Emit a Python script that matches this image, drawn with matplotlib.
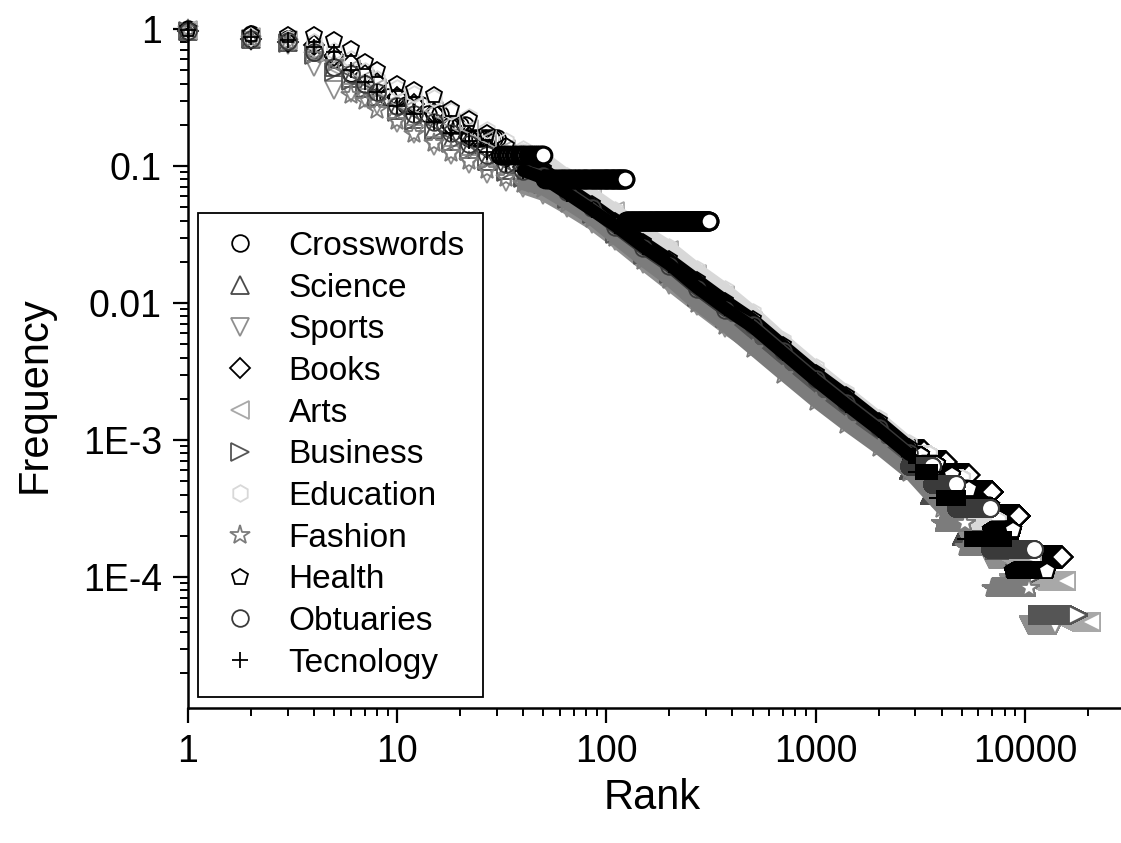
import numpy as np
import matplotlib
matplotlib.use("Agg")
import matplotlib.pyplot as plt
from matplotlib.lines import Line2D
from matplotlib.ticker import LogLocator, NullFormatter

plt.rcParams['font.family'] = ['Liberation Sans', 'DejaVu Sans']

rank_grid = [1, 2, 3, 4, 5, 6, 7, 8, 10, 12, 15, 18, 22, 27, 33, 40, 50, 65, 85, 110,
             150, 200, 270, 370, 500, 700, 1000, 1400, 2000, 2800, 4000, 5000]

# crosswords has only a few documents: every rank sits on a k/25 level
crosswords_level = [1.0, 0.92, 0.84, 0.72, 0.6, 0.48, 0.4, 0.32, 0.28, 0.24, 0.2, 0.16, 0.12, 0.08, 0.04]
crosswords_end = [1, 2, 3, 4, 5, 6, 8, 10, 13, 16, 21, 30, 50, 123, 310]

science_freq = [0.959, 0.843, 0.802, 0.684, 0.531, 0.437, 0.370, 0.322, 0.256, 0.221, 0.185, 0.153,
                0.134, 0.109, 0.0933, 0.0839, 0.0766, 0.0594, 0.0454, 0.0339, 0.0237, 0.0174,
                0.0115, 0.00802, 0.00568, 0.00366, 0.00231, 0.00155, 0.00104, 0.000679]
science_tail = [6.0e-4, 4.0e-4, 2.0e-4]
science_end = [3500, 5000, 8000]

sports_freq = [0.933, 0.813, 0.759, 0.525, 0.36, 0.34, 0.315, 0.278, 0.205, 0.172, 0.141, 0.120,
               0.104, 0.0871, 0.0759, 0.0692, 0.0617, 0.0490, 0.0380, 0.0282, 0.0192, 0.0136,
               0.0095, 0.0066, 0.0048, 0.00318, 0.00205, 0.00139, 0.000940, 0.000620,
               0.000347, 0.000253]
sports_tail = [2.27e-4, 1.82e-4, 1.36e-4, 9.1e-5, 4.5e-5]
sports_end = [5600, 6800, 8400, 10500, 14000]

books_freq = [0.966, 0.85, 0.81, 0.76, 0.635, 0.556, 0.461, 0.402, 0.319, 0.283, 0.242, 0.197,
              0.164, 0.136, 0.115, 0.0986, 0.0867, 0.0664, 0.0502, 0.0377, 0.0264, 0.0196,
              0.0139, 0.00973, 0.00711, 0.00474, 0.00299, 0.00199, 0.00130, 0.000847]
books_tail = [8.3e-4, 6.9e-4, 5.6e-4, 4.2e-4, 2.8e-4, 1.4e-4]
books_end = [3300, 4200, 5400, 7000, 9400, 15000]

arts_freq = [0.98, 0.867, 0.836, 0.684, 0.531, 0.513, 0.429, 0.373, 0.296, 0.272, 0.253, 0.205,
             0.186, 0.157, 0.132, 0.120, 0.108, 0.0805, 0.0615, 0.0466, 0.0321, 0.0242,
             0.0162, 0.0114, 0.00735, 0.00445, 0.00263, 0.00176, 0.00116, 0.000759,
             0.000432, 0.000320]
arts_tail = [2.8e-4, 2.35e-4, 1.88e-4, 1.41e-4, 9.4e-5, 4.7e-5]
arts_end = [5600, 6700, 8200, 10800, 15700, 20800]

business_freq = [0.959, 0.843, 0.791, 0.649, 0.485, 0.419, 0.356, 0.310, 0.247, 0.212, 0.177, 0.147,
                 0.128, 0.109, 0.0902, 0.0813, 0.0743, 0.0578, 0.0443, 0.0321, 0.0224, 0.0164,
                 0.0111, 0.00776, 0.00605, 0.00391, 0.00247, 0.00165, 0.00110, 0.000718,
                 0.000406, 0.000299]
business_tail = [2.6e-4, 2.1e-4, 1.58e-4, 1.05e-4, 5.3e-5]
business_end = [5800, 7200, 9000, 11500, 18000]

education_freq = [0.986, 0.875, 0.847, 0.802, 0.695, 0.603, 0.497, 0.433, 0.370, 0.334, 0.316, 0.252,
                  0.229, 0.182, 0.151, 0.132, 0.115, 0.0851, 0.0631, 0.0479, 0.0339, 0.0257,
                  0.0178, 0.0126, 0.00863, 0.00540, 0.00340, 0.00225, 0.00146, 0.000946]
education_tail = [7.9e-4, 5.3e-4, 2.6e-4]
education_end = [3500, 5000, 7400]

fashion_freq = [1.0, 0.851, 0.802, 0.649, 0.560, 0.332, 0.296, 0.258, 0.213, 0.172, 0.148, 0.125,
                0.109, 0.0938, 0.0813, 0.0738, 0.0676, 0.0532, 0.0410, 0.0297, 0.0204, 0.0147,
                0.0098, 0.0068, 0.00462, 0.00300, 0.00191, 0.00129, 0.000871, 0.000575, 0.000316]
fashion_tail = [2.5e-4, 1.67e-4, 8.3e-5]
fashion_end = [5200, 7000, 10500]

health_freq = [1.0, 0.92, 0.91, 0.90, 0.83, 0.71, 0.575, 0.50, 0.40, 0.36, 0.33, 0.26,
               0.22, 0.175, 0.141, 0.120, 0.095, 0.070, 0.053, 0.040, 0.0279, 0.0208,
               0.0148, 0.0104, 0.0076, 0.0049, 0.0031, 0.00212, 0.00138, 0.000895]
health_tail = [7.8e-4, 6.7e-4, 5.6e-4, 4.4e-4, 3.3e-4, 2.2e-4, 1.1e-4]
health_end = [3200, 3800, 4500, 5400, 6900, 8800, 12700]

obtuaries_freq = [0.966, 0.851, 0.813, 0.684, 0.531, 0.473, 0.398, 0.347, 0.275, 0.240, 0.211, 0.174,
                  0.145, 0.121, 0.1035, 0.0925, 0.0841, 0.0646, 0.0490, 0.0357, 0.0250, 0.0185,
                  0.0126, 0.00883, 0.00689, 0.00445, 0.00281, 0.00187, 0.00123, 0.000802]
obtuaries_tail = [6.5e-4, 4.8e-4, 3.2e-4, 1.6e-4]
obtuaries_end = [3600, 4700, 6800, 11000]

tech_freq = [0.98, 0.867, 0.836, 0.741, 0.676, 0.501, 0.407, 0.347, 0.275, 0.240, 0.211, 0.174,
             0.151, 0.126, 0.1035, 0.0925, 0.0815, 0.0628, 0.0478, 0.0367, 0.0257, 0.0191,
             0.0130, 0.00912, 0.00667, 0.00431, 0.00272, 0.00181, 0.00119, 0.000780]
tech_tail = [7.7e-4, 5.8e-4, 3.8e-4, 1.9e-4]
tech_end = [3000, 3800, 5200, 8600]

series = [
    ("Science", "^", "#4a4a4a", science_freq, science_tail, science_end),
    ("Sports", "v", "#8e8e8e", sports_freq, sports_tail, sports_end),
    ("Books", "D", "#000000", books_freq, books_tail, books_end),
    ("Arts", "<", "#a8a8a8", arts_freq, arts_tail, arts_end),
    ("Business", ">", "#555555", business_freq, business_tail, business_end),
    ("Education", "h", "#d8d8d8", education_freq, education_tail, education_end),
    ("Fashion", "*", "#7c7c7c", fashion_freq, fashion_tail, fashion_end),
    ("Health", "p", "#000000", health_freq, health_tail, health_end),
    ("Obtuaries", "o", "#3a3a3a", obtuaries_freq, obtuaries_tail, obtuaries_end),
    ("Tecnology", "+", "#000000", tech_freq, tech_tail, tech_end),
]


def runs(start, levels, ends):
    # every rank of a plateau has the same frequency
    r, f = [], []
    for lev, end in zip(levels, ends):
        rr = np.arange(start, end + 1)
        r.append(rr)
        f.append(np.full(rr.size, lev))
        start = end + 1
    return np.concatenate(r), np.concatenate(f)


def msize(mk):
    if mk == 'D':
        return 10
    if mk == '*':
        return 15
    if mk in '^v<>':
        return 12.5
    return 12


fig = plt.figure(figsize=(11.21, 8.43), dpi=100)
ax = fig.add_axes([188 / 1121, 135 / 843, 933 / 1121, 685 / 843])
ax.set_xscale('log')
ax.set_yscale('log')

cr, cf = runs(1, crosswords_level, crosswords_end)
head = cr <= 30
ax.plot(cr[head], cf[head], ls='none', marker='o', ms=msize('o'), mfc='none', mec='black',
        mew=1.3, clip_on=False)

for name, mk, col, freq, tail, ends in series:
    n = len(freq)
    ranks = rank_grid[:n]
    ax.plot(ranks[15:], freq[15:], '-', color=col, lw=9, solid_capstyle='round')
    ax.plot(ranks, freq, ls='none', marker=mk, ms=msize(mk), mfc='none', mec=col, mew=1.3, clip_on=False)
    tr, tf = runs(ranks[-1] + 1, tail, ends)
    ax.plot(tr, tf, ls='none', marker=mk, ms=msize(mk), mfc='white', mec=col, mew=1.3)

# the long crosswords plateaus sit on top of the main band
ax.plot(cr[~head], cf[~head], ls='none', marker='o', ms=msize('o'), mfc='white', mec='black', mew=2.2)

ax.set_xlim(1, 28800)
ax.set_ylim(1.107e-5, 1.106)
ax.set_xticks([1, 10, 100, 1000, 10000], ['1', '10', '100', '1000', '10000'])
ax.set_yticks([1e-4, 1e-3, 0.01, 0.1, 1], ['1E-4', '1E-3', '0.01', '0.1', '1'])
for axis in (ax.xaxis, ax.yaxis):
    axis.set_minor_locator(LogLocator(base=10, subs=np.arange(2, 10) * 1.0, numticks=20))
    axis.set_minor_formatter(NullFormatter())

ax.tick_params(which='major', direction='out', length=10.8, width=1.6, labelsize=27, pad=8)
ax.tick_params(which='minor', direction='out', length=5.8, width=1.4)
for s in ('top', 'right'):
    ax.spines[s].set_visible(False)
for s in ('left', 'bottom'):
    ax.spines[s].set_linewidth(1.8)

ax.set_xlabel('Rank', fontsize=30)
ax.set_ylabel('Frequency', fontsize=30)
ax.xaxis.set_label_coords(0.497, -0.102)
ax.yaxis.set_label_coords(-0.1425, 0.457)

handles = [Line2D([], [], ls='none', marker='o', ms=msize('o'), mfc='white', mec='black', mew=1.3)]
labels = ['Crosswords']
for name, mk, col, freq, tail, ends in series:
    handles.append(Line2D([], [], ls='none', marker=mk, ms=msize(mk),
                          mfc='white', mec=col, mew=1.3))
    labels.append(name)
leg = ax.legend(handles, labels, loc='lower left', bbox_to_anchor=(0.0107, 0.016),
                borderaxespad=0, fontsize=24, frameon=True, fancybox=False, framealpha=1,
                edgecolor='black', borderpad=0.55, handlelength=1.45, handletextpad=0.72,
                labelspacing=0.32)
leg.get_frame().set_linewidth(1.3)
leg.set_zorder(10)

plt.savefig('out.png', dpi=100)
